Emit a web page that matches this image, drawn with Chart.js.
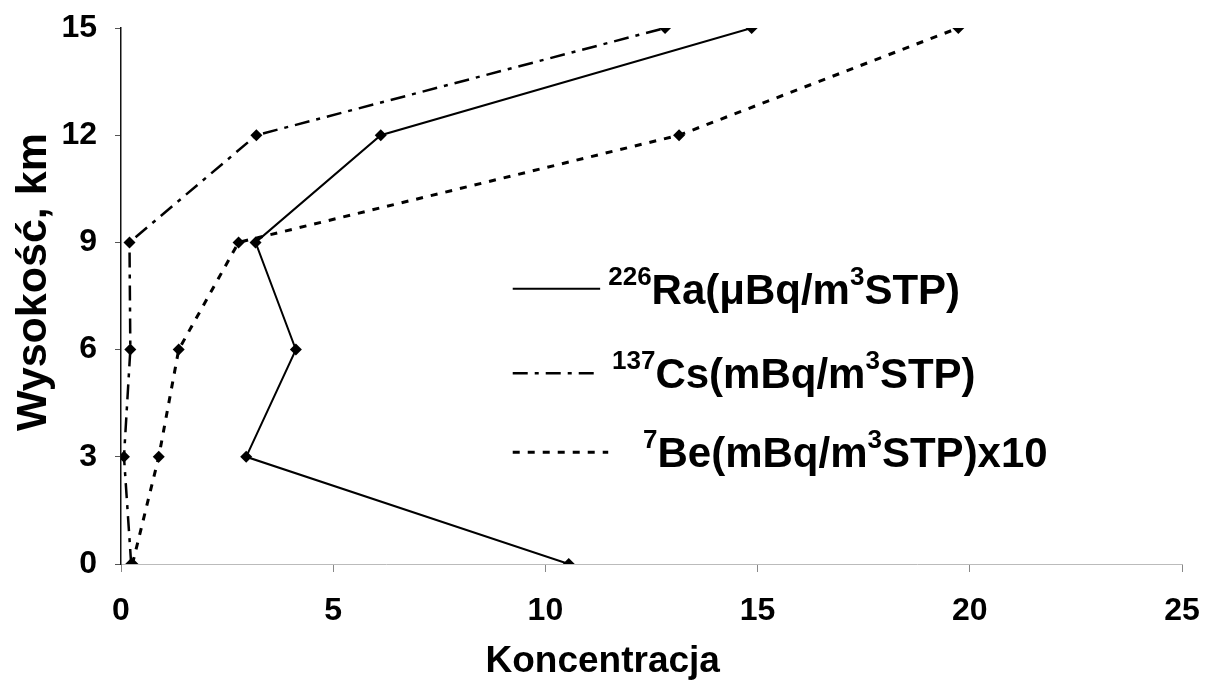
<!DOCTYPE html>
<html>
<head>
<meta charset="utf-8">
<script src="https://cdn.jsdelivr.net/npm/chart.js@4.4.1/dist/chart.umd.min.js"></script>
<style>
  html, body { margin: 0; padding: 0; background: #fff; }
  #wrap { width: 1206px; height: 686px; position: relative; }
</style>
</head>
<body>
<div id="wrap"><canvas id="c" width="1206" height="686"></canvas></div>
<script>
// Altitude levels (km)
const heightsKm = [0, 3, 6, 9, 12, 15];
// Concentrations at each altitude
const ra226 = [10.55, 2.95, 4.12, 3.17, 6.12, 14.86];
const cs137 = [0.24, 0.07, 0.22, 0.20, 3.19, 12.82];
const be7x10 = [0.27, 0.89, 1.36, 2.77, 13.15, 19.73];

// Axis tick values
const xTicks = [0, 5, 10, 15, 20, 25];
const yTicks = [0, 3, 6, 9, 12, 15];

// Legend texts; ^ marks a superscript run up to the next |
const legendLabels = [
  '^226|Ra(μBq/m^3|STP)',
  '^137|Cs(mBq/m^3|STP)',
  '^7|Be(mBq/m^3|STP)x10'
];
const xTitle = 'Koncentracja';
const yTitle = 'Wysokość, km';

const FONT = '"Liberation Sans", Arial, sans-serif';

function pts(xs) { return xs.map((v, i) => ({ x: v, y: heightsKm[i] })); }

const styles = [
  { dash: [], width: 2 },
  { dash: [15, 7, 4, 7], width: 2.5 },
  { dash: [7, 8], width: 3 }
];

const datasets = [ra226, cs137, be7x10].map((arr, i) => ({
  label: legendLabels[i],
  data: pts(arr),
  showLine: true,
  borderColor: '#000',
  backgroundColor: '#000',
  borderWidth: styles[i].width,
  borderDash: styles[i].dash,
  pointStyle: 'rectRot',
  pointRadius: 6,
  pointBorderWidth: 0,
  tension: 0
}));

function drawRich(ctx, text, x, baseline, size, supSize, supRise) {
  const parts = text.split(/(\^[^|]*\|)/).filter(s => s.length);
  let cx = x;
  for (const p of parts) {
    if (p[0] === '^') {
      const t = p.slice(1, -1);
      ctx.font = 'bold ' + supSize + 'px ' + FONT;
      ctx.fillText(t, cx, baseline - supRise);
      cx += ctx.measureText(t).width;
    } else {
      ctx.font = 'bold ' + size + 'px ' + FONT;
      ctx.fillText(p, cx, baseline);
      cx += ctx.measureText(p).width;
    }
  }
}

// Legend with superscripts drawn inside the plot area, plus axis titles
const annotations = {
  id: 'annotations',
  afterDraw(chart) {
    const ctx = chart.ctx;
    const xs = chart.scales.x, ys = chart.scales.y;
    ctx.save();
    ctx.fillStyle = '#000';
    ctx.strokeStyle = '#000';
    ctx.textBaseline = 'alphabetic';
    ctx.textAlign = 'left';

    const rows = [
      { y: ys.getPixelForValue(7.70), x0: xs.getPixelForValue(9.23), x1: xs.getPixelForValue(11.29), tx: xs.getPixelForValue(11.48) },
      { y: ys.getPixelForValue(5.34), x0: xs.getPixelForValue(9.23), x1: xs.getPixelForValue(11.29), tx: xs.getPixelForValue(11.57) },
      { y: ys.getPixelForValue(3.13), x0: xs.getPixelForValue(9.23), x1: xs.getPixelForValue(11.48), tx: xs.getPixelForValue(12.3) }
    ];
    rows.forEach((r, i) => {
      ctx.lineWidth = styles[i].width;
      ctx.setLineDash(styles[i].dash);
      ctx.beginPath();
      ctx.moveTo(r.x0, r.y);
      ctx.lineTo(r.x1, r.y);
      ctx.stroke();
      ctx.setLineDash([]);
      drawRich(ctx, legendLabels[i], r.tx, r.y + 15, 42, 26, 19);
    });

    // x-axis title
    ctx.font = 'bold 37px ' + FONT;
    ctx.textAlign = 'center';
    ctx.fillText(xTitle, xs.getPixelForValue(11.35), 672);

    // y-axis title
    ctx.save();
    ctx.translate(46, ys.getPixelForValue(7.89));
    ctx.rotate(-Math.PI / 2);
    ctx.font = 'bold 43px ' + FONT;
    ctx.textAlign = 'center';
    ctx.fillText(yTitle, 0, 0);
    ctx.restore();
    ctx.restore();
  }
};

new Chart(document.getElementById('c'), {
  type: 'scatter',
  data: { datasets },
  options: {
    responsive: false,
    animation: false,
    events: [],
    layout: { padding: { top: 28, right: 24, left: 0, bottom: 0 } },
    plugins: { legend: { display: false }, tooltip: { enabled: false } },
    scales: {
      x: {
        type: 'linear',
        min: 0, max: 25,
        afterBuildTicks(s) { s.ticks = xTicks.map(v => ({ value: v })); },
        afterFit(s) { s.height = 122; s.paddingLeft = 0; s.paddingRight = 0; },
        grid: { drawOnChartArea: false, drawTicks: true, tickLength: 8, tickColor: '#888', tickWidth: 1 },
        border: { display: true, color: '#bbb', width: 1, dash: [3, 6] },
        ticks: { color: '#000', padding: 20, font: { family: FONT, size: 32, weight: 'bold' } }
      },
      y: {
        type: 'linear',
        min: 0, max: 15,
        afterBuildTicks(s) { s.ticks = yTicks.map(v => ({ value: v })); },
        afterFit(s) { s.width = 121; s.paddingTop = 0; s.paddingBottom = 0; },
        grid: { drawOnChartArea: false, drawTicks: true, tickLength: 6, tickColor: '#555', tickWidth: 1 },
        border: { display: true, color: '#111', width: 1.5 },
        ticks: { color: '#000', padding: 18, font: { family: FONT, size: 32, weight: 'bold' } }
      }
    }
  },
  plugins: [annotations]
});
</script>
</body>
</html>
